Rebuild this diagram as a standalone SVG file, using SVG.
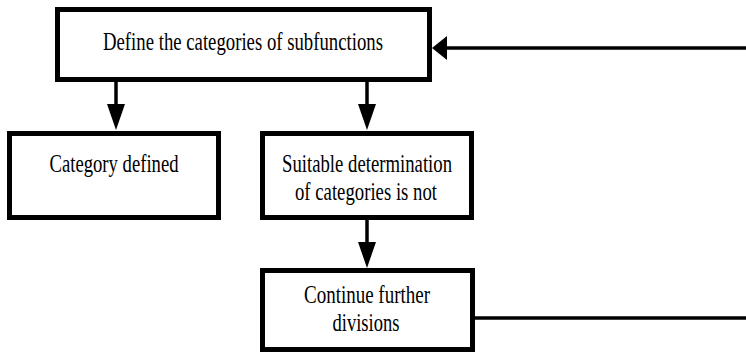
<svg xmlns="http://www.w3.org/2000/svg" width="746" height="356" viewBox="0 0 746 356">
  <defs>
    <style>
      .box { fill: #ffffff; stroke: #000000; stroke-width: 5; }
      .lbl { font-family: "Liberation Serif", "DejaVu Serif", "Times New Roman", serif; font-size: 26px; fill: #000000; text-anchor: middle; }
      .wire { stroke: #000000; stroke-width: 3.5; fill: none; }
      .head { fill: #000000; stroke: none; }
    </style>
  </defs>
  <rect width="746" height="356" fill="#ffffff"/>

  <g id="connectors">
    <!-- feedback from "Continue further divisions" back to the top box -->
    <line class="wire" x1="475" y1="318" x2="746" y2="318"/>
    <line class="wire" x1="746" y1="48" x2="444" y2="48"/>
    <polygon class="head" points="432,48 447,36 447,60"/>
    <!-- top box to "Category defined" -->
    <line class="wire" x1="116" y1="82" x2="116" y2="106"/>
    <polygon class="head" points="116,130 107,104 125,104"/>
    <!-- top box to "Suitable determination" -->
    <line class="wire" x1="367" y1="82" x2="367" y2="106"/>
    <polygon class="head" points="367,130 358,104 376,104"/>
    <!-- "Suitable determination" to "Continue further divisions" -->
    <line class="wire" x1="367" y1="220" x2="367" y2="244"/>
    <polygon class="head" points="367,268 358,242 376,242"/>
  </g>

  <g id="define">
    <rect class="box" x="57.5" y="9.5" width="372" height="70"/>
    <text class="lbl" x="243" y="50" textLength="280" lengthAdjust="spacingAndGlyphs">Define the categories of subfunctions</text>
  </g>

  <g id="defined">
    <rect class="box" x="9.5" y="133.5" width="209" height="84"/>
    <text class="lbl" x="114" y="172" textLength="129" lengthAdjust="spacingAndGlyphs">Category defined</text>
  </g>

  <g id="not-suitable">
    <rect class="box" x="262.5" y="133.5" width="209" height="84"/>
    <text class="lbl" x="367" y="172" textLength="170" lengthAdjust="spacingAndGlyphs">Suitable determination</text>
    <text class="lbl" x="366" y="200" textLength="142" lengthAdjust="spacingAndGlyphs">of categories is not</text>
  </g>

  <g id="continue">
    <rect class="box" x="262.5" y="270.5" width="210" height="79"/>
    <text class="lbl" x="367" y="303" textLength="126" lengthAdjust="spacingAndGlyphs">Continue further</text>
    <text class="lbl" x="366" y="331" textLength="67" lengthAdjust="spacingAndGlyphs">divisions</text>
  </g>
</svg>
